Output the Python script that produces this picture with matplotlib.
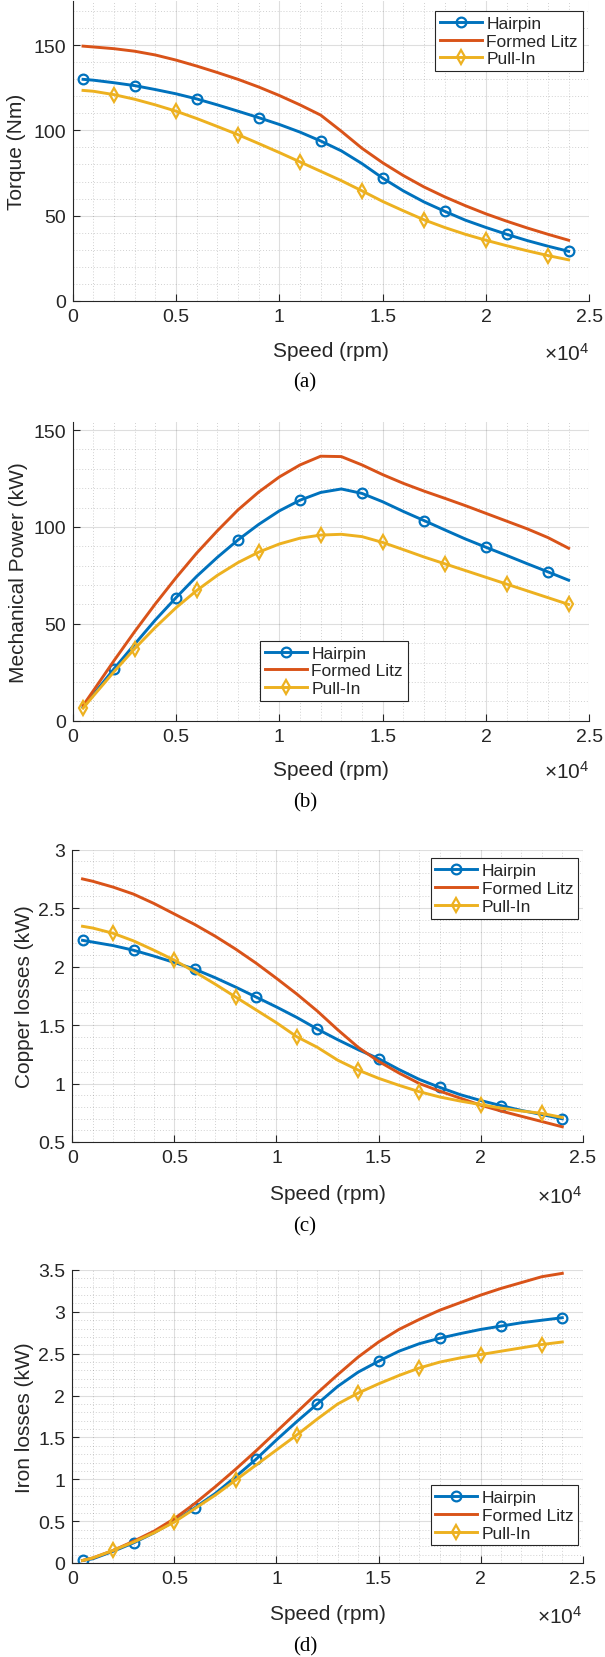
import matplotlib
matplotlib.use("Agg")
import matplotlib.pyplot as plt
from matplotlib.ticker import MultipleLocator, FuncFormatter

plt.rcParams['font.family'] = ['Liberation Sans', 'DejaVu Sans']
plt.rcParams['mathtext.fontset'] = 'custom'
plt.rcParams['mathtext.rm'] = 'Liberation Sans'
plt.rcParams['mathtext.it'] = 'Liberation Sans'

# ---------------- data ----------------
speed = [500, 1000, 2000, 3000, 4000, 5000, 6000, 7000, 8000, 9000, 10000, 11000, 12000,
         13000, 14000, 15000, 16000, 17000, 18000, 19000, 20000, 21000, 22000, 23000, 24000]

series_names = ["Hairpin", "Formed Litz", "Pull-In"]

torque_hairpin = [130, 129.5, 128, 126.3, 124, 121.5, 118.5, 115, 111.3, 107.5, 103.5, 99, 93.8,
                  88, 80.5, 72, 64.5, 58, 52.5, 47.3, 43, 39, 35.3, 32, 29]
torque_litz = [149.5, 149, 148, 146.5, 144.3, 141.3, 137.8, 134, 130, 125.5, 120.5, 115, 109,
               99.5, 89.5, 81, 73.5, 66.8, 61, 55.8, 51, 46.7, 42.7, 39, 35.5]
torque_pullin = [123.5, 123, 121, 118.3, 115, 111.3, 107, 102.3, 97.5, 92.3, 87, 81.5, 76,
                 70.5, 64.5, 58.3, 52.8, 47.5, 43, 39, 35.5, 32.3, 29.3, 26.5, 24]

power_hairpin = [7, 13.5, 26.8, 39.5, 52, 63.5, 74.5, 84.3, 93.3, 101.3, 108.3, 113.8, 117.8,
                 119.6, 117.3, 113, 108, 103.3, 98.5, 93.8, 89.5, 85.3, 81, 76.8, 72.5]
power_litz = [7.8, 15.5, 31, 46, 60.3, 73.8, 86.5, 98, 108.8, 118, 125.8, 132, 136.5,
              136.3, 132, 127, 122.5, 118.5, 114.8, 111, 107, 103, 99, 94.5, 89]
power_pullin = [6.5, 12.8, 25.3, 37.2, 48.2, 58.3, 67.2, 75, 81.6, 87, 91.2, 94.2, 95.8,
                96.2, 95, 92, 88.3, 84.5, 81, 77.5, 74, 70.5, 67, 63.5, 60]

copper_hairpin = [2.225, 2.21, 2.18, 2.14, 2.09, 2.035, 1.978, 1.905, 1.825, 1.74, 1.655, 1.565, 1.466,
                  1.375, 1.29, 1.213, 1.12, 1.035, 0.967, 0.905, 0.855, 0.811, 0.77, 0.735, 0.698]
copper_litz = [2.75, 2.73, 2.68, 2.62, 2.54, 2.45, 2.36, 2.26, 2.15, 2.03, 1.9, 1.765, 1.62,
               1.46, 1.31, 1.19, 1.09, 1.0, 0.935, 0.875, 0.815, 0.765, 0.72, 0.675, 0.63]
copper_pullin = [2.345, 2.33, 2.285, 2.22, 2.14, 2.055, 1.955, 1.85, 1.74, 1.63, 1.52, 1.40, 1.31,
                 1.2, 1.115, 1.045, 0.985, 0.93, 0.885, 0.85, 0.82, 0.79, 0.765, 0.745, 0.71]

iron_hairpin = [0.03, 0.05, 0.14, 0.24, 0.36, 0.5, 0.66, 0.83, 1.03, 1.24, 1.47, 1.69, 1.9,
                2.11, 2.28, 2.41, 2.53, 2.62, 2.685, 2.74, 2.79, 2.83, 2.87, 2.9, 2.93]
iron_litz = [0.03, 0.06, 0.15, 0.26, 0.38, 0.53, 0.71, 0.91, 1.12, 1.34, 1.57, 1.8, 2.03,
             2.25, 2.46, 2.64, 2.79, 2.91, 3.02, 3.11, 3.2, 3.28, 3.35, 3.42, 3.46]
iron_pullin = [0.03, 0.06, 0.15, 0.25, 0.36, 0.49, 0.65, 0.81, 0.99, 1.17, 1.35, 1.53, 1.72,
               1.9, 2.03, 2.14, 2.24, 2.33, 2.4, 2.45, 2.49, 2.53, 2.57, 2.61, 2.64]

y_labels = ["Torque (Nm)", "Mechanical Power (kW)", "Copper losses (kW)", "Iron losses (kW)"]
captions = ["(a)", "(b)", "(c)", "(d)"]
x_label = "Speed (rpm)"

# ---------------- style ----------------
W, H = 605, 1658
DPI = 100
C_BLUE = "#0072BD"
C_RED = "#D95319"
C_YEL = "#EDB120"
TXT = "#262626"

fig = plt.figure(figsize=(W / DPI, H / DPI), dpi=DPI)


def ax_at(left, right, top, bottom):
    return fig.add_axes([left / W, 1 - bottom / H, (right - left) / W, (bottom - top) / H])


markA = list(range(0, 25, 3))   # 500, 3000, 6000, ...
markB = list(range(2, 25, 3))   # 2000, 5000, 8000, ...

panels = [
    dict(box=(72.7, 589.3, 2.0, 301.7), ylim=(0, 176), major=50, minor=10,
         data=(torque_hairpin, torque_litz, torque_pullin), hp_mark=markA, pi_mark=markB,
         leg=(0.7015, 0.967), ylab_x=16.7, xlab_y=351.7, cap_y=383.3),
    dict(box=(72.7, 589.3, 423.3, 721.7), ylim=(0, 154), major=50, minor=10,
         data=(power_hairpin, power_litz, power_pullin), hp_mark=markB, pi_mark=markA,
         leg=(0.3626, 0.268), ylab_x=18.3, xlab_y=770.0, cap_y=803.3),
    dict(box=(72.3, 582.7, 850.7, 1143.0), ylim=(0.5, 3.0), major=0.5, minor=0.1,
         data=(copper_hairpin, copper_litz, copper_pullin), hp_mark=markA, pi_mark=markB,
         leg=(0.702, 0.9706), ylab_x=25.0, xlab_y=1195.0, cap_y=1226.7),
    dict(box=(72.3, 582.7, 1271.0, 1564.0), ylim=(0, 3.5), major=0.5, minor=0.1,
         data=(iron_hairpin, iron_litz, iron_pullin), hp_mark=markA, pi_mark=markB,
         leg=(0.702, 0.266), ylab_x=25.0, xlab_y=1615.0, cap_y=1646.7),
]

for i, p in enumerate(panels):
    l, r, t, b = p["box"]
    ax = ax_at(l, r, t, b)
    hp, lz, pi = p["data"]
    ax.plot(speed, hp, color=C_BLUE, lw=2.1, marker="o", ms=7, mfc="none", mew=1.6,
            markevery=p["hp_mark"], label=series_names[0])
    ax.plot(speed, lz, color=C_RED, lw=2.1, label=series_names[1])
    ax.plot(speed, pi, color=C_YEL, lw=2.1, marker="d", ms=7, mfc="none", mew=1.6,
            markevery=p["pi_mark"], label=series_names[2])

    ax.set_xlim(0, 25000)
    ax.set_ylim(*p["ylim"])
    ax.xaxis.set_major_locator(MultipleLocator(5000))
    ax.xaxis.set_minor_locator(MultipleLocator(1000))
    ax.yaxis.set_major_locator(MultipleLocator(p["major"]))
    ax.yaxis.set_minor_locator(MultipleLocator(p["minor"]))
    ax.xaxis.set_major_formatter(FuncFormatter(lambda v, pos: f"{v / 1e4:g}"))
    ax.yaxis.set_major_formatter(FuncFormatter(lambda v, pos: f"{v:g}"))

    ax.grid(True, which="major", color="#262626", alpha=0.15, lw=0.8, ls="-")
    ax.grid(True, which="minor", color="#1a1a1a", alpha=0.2, lw=0.7, ls=(0, (1, 2)))
    ax.set_axisbelow(True)

    for s in ("top", "right"):
        ax.spines[s].set_visible(False)
    for s in ("left", "bottom"):
        ax.spines[s].set_color(TXT)
        ax.spines[s].set_linewidth(0.8)

    ax.tick_params(which="major", direction="in", length=5, width=0.8, color=TXT,
                   labelsize=14, labelcolor=TXT)
    ax.tick_params(axis="x", which="major", pad=5)
    ax.tick_params(axis="y", which="major", pad=5)
    ax.tick_params(which="minor", length=0)

    axh = b - t
    axw = r - l
    ax.set_ylabel(y_labels[i], fontsize=15, color=TXT)
    ax.yaxis.label.set_va("center")
    ax.yaxis.set_label_coords((p["ylab_x"] - l) / axw, 0.5)
    ax.set_xlabel(x_label, fontsize=15, color=TXT)
    ax.xaxis.label.set_va("center")
    ax.xaxis.set_label_coords(0.5, (b - p["xlab_y"]) / axh)

    ax.text(1.0, (b - p["xlab_y"] - 2) / axh, r"$\times10^{4}$", transform=ax.transAxes,
            ha="right", va="center", fontsize=15, color=TXT)

    lx, ly = p["leg"]
    leg = ax.legend(loc="upper left", bbox_to_anchor=(lx, ly), borderaxespad=0,
                    fontsize=12.5, handlelength=2.4, handletextpad=0.28, borderpad=0.28,
                    labelspacing=0.15, numpoints=1, fancybox=False, framealpha=1,
                    edgecolor=TXT)
    leg.get_frame().set_linewidth(0.8)
    for txt in leg.get_texts():
        txt.set_color(TXT)

    fig.text(305 / W, 1 - p["cap_y"] / H, captions[i], ha="center", va="center",
             fontsize=15, family="Liberation Serif", color="black")

fig.savefig("out.png", dpi=DPI)
